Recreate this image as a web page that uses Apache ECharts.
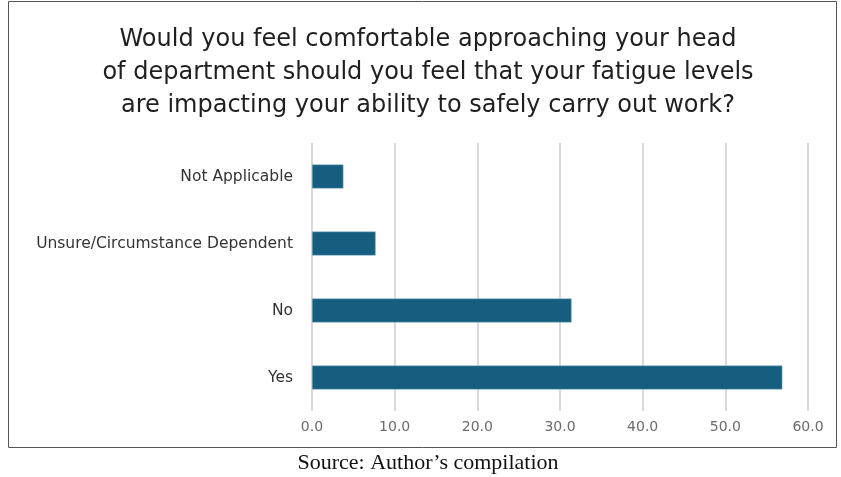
<!DOCTYPE html>
<html>
<head>
<meta charset="utf-8">
<script src="https://cdn.jsdelivr.net/npm/echarts@6/dist/echarts.min.js"></script>
<style>
  html, body { margin: 0; padding: 0; background: #fff; }
  #chart { width: 841px; height: 477px; }
</style>
</head>
<body>
<div id="chart"></div>
<script>
// Survey responses (percent of respondents)
const categories = ['Yes', 'No', 'Unsure/Circumstance Dependent', 'Not Applicable'];
const shares = [56.9, 31.4, 7.7, 3.8];
const tickValues = [0, 10, 20, 30, 40, 50, 60];

const titleLines = [
  'Would you feel comfortable approaching your head',
  'of department should you feel that your fatigue levels',
  'are impacting your ability to safely carry out work?'
];
const sourceNote = 'Source: Author\u2019s compilation';

const sans = '"DejaVu Sans", Verdana, sans-serif';

const chart = echarts.init(document.getElementById('chart'));
chart.setOption({
  backgroundColor: '#ffffff',
  animation: false,
  title: {
    text: titleLines.join('\n'),
    left: 423,
    top: 18,
    textAlign: 'center',
    textStyle: {
      fontFamily: sans,
      fontSize: 24,
      fontWeight: 'normal',
      color: '#1f1f1f',
      lineHeight: 33
    }
  },
  graphic: [
    {
      type: 'rect',
      shape: { x: 8.5, y: 1.5, width: 828, height: 446 },
      style: { fill: 'none', stroke: '#555555', lineWidth: 1 },
      z: -1
    },
    {
      type: 'text',
      x: 428,
      y: 452,
      style: {
        text: sourceNote,
        textAlign: 'center',
        font: '22px "Liberation Serif", "DejaVu Serif", serif',
        fill: '#111111'
      }
    }
  ],
  grid: { left: 312, right: 33, top: 143, bottom: 66, containLabel: false },
  xAxis: {
    type: 'value',
    min: tickValues[0],
    max: tickValues[tickValues.length - 1],
    interval: 10,
    axisLine: { show: false },
    axisTick: { show: false },
    splitLine: { show: true, lineStyle: { color: '#d9d9d9', width: 2 } },
    axisLabel: {
      formatter: v => v.toFixed(1),
      color: '#6b6b6b',
      fontSize: 14,
      fontFamily: sans,
      margin: 9
    }
  },
  yAxis: {
    type: 'category',
    data: categories,
    axisLine: { show: false },
    axisTick: { show: false },
    axisLabel: {
      color: '#333333',
      fontSize: 15.5,
      fontFamily: sans,
      margin: 19
    }
  },
  series: [{
    type: 'bar',
    data: shares,
    barWidth: 24,
    itemStyle: { color: '#165e80', borderColor: '#8fb3c6', borderWidth: 0.5 }
  }]
});
</script>
</body>
</html>
